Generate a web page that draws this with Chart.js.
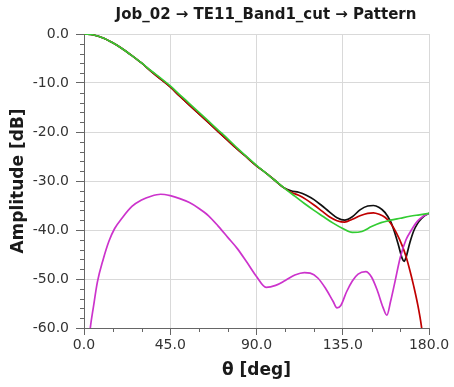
<!DOCTYPE html>
<html>
<head>
<meta charset="utf-8">
<script src="https://cdn.jsdelivr.net/npm/chart.js@4/dist/chart.umd.min.js"></script>
<style>
  html, body { margin: 0; padding: 0; background: #fff; }
  #wrap { width: 454px; height: 387px; }
</style>
</head>
<body>
<div id="wrap"><canvas id="c" width="454" height="387"></canvas></div>
<script>
// Far-field pattern cut: amplitude [dB] versus theta [deg]
const chartTitle = 'Job_02 \u2192 TE11_Band1_cut \u2192 Pattern';
const xTitle = '\u03b8 [deg]';
const yTitle = 'Amplitude [dB]';

const xTicks = [0, 45, 90, 135, 180];
const yTicks = [0, -10, -20, -30, -40, -50, -60];

const thetaGreen = [0,5,10,15,20,25,30,35,40,45,50,55,60,65,70,75,80,85,90,95,100,105,110,115,120,125,130,135,140,145,150,155,160,165,170,175,180];
const ampGreen   = [0,-0.2,-0.8,-1.8,-3.0,-4.4,-5.9,-7.5,-9.0,-10.6,-12.4,-14.2,-16.0,-17.8,-19.6,-21.4,-23.3,-25.1,-26.8,-28.4,-30.0,-31.6,-33.1,-34.6,-36.0,-37.3,-38.6,-39.7,-40.5,-40.3,-39.3,-38.5,-38.0,-37.6,-37.2,-36.9,-36.6];

const thetaBlack = [0,5,10,15,20,25,30,35,40,45,50,55,60,65,70,75,80,85,90,95,100,104,108,112,116,120,124,128,132,136,140,144,148,151,154,157,160,162,164,166,167,168,170,172,174,176,178,180];
const ampBlack   = [0,-0.2,-0.8,-1.8,-3.0,-4.4,-5.9,-7.6,-9.2,-10.8,-12.7,-14.5,-16.3,-18.1,-19.9,-21.7,-23.5,-25.2,-26.9,-28.4,-30.0,-31.3,-32.0,-32.3,-32.9,-33.8,-35.0,-36.3,-37.5,-38.0,-37.3,-35.9,-35.1,-35.0,-35.4,-36.4,-38.3,-40.4,-43.0,-45.8,-46.4,-45.6,-42.6,-40.2,-38.7,-37.7,-37.0,-36.6];

const thetaRed = [0,5,10,15,20,25,30,35,40,45,50,55,60,65,70,75,80,85,90,95,100,104,108,112,116,120,124,128,132,136,140,144,148,151,154,157,160,163,166,168,170,172,174,176,178,180];
const ampRed   = [0,-0.2,-0.8,-1.8,-3.0,-4.4,-5.9,-7.6,-9.2,-10.8,-12.7,-14.5,-16.3,-18.1,-19.9,-21.7,-23.5,-25.2,-26.9,-28.4,-30.0,-31.3,-32.3,-32.9,-33.8,-34.9,-36.1,-37.3,-38.1,-38.4,-37.8,-37.1,-36.6,-36.5,-36.8,-37.4,-38.6,-40.6,-43.2,-45.4,-48.2,-51.4,-55.0,-59.5,-66.0,-75.0];

const thetaMagenta = [0,2,3,5,7,10,13,16,20,25,30,35,40,45,50,55,60,65,70,75,80,85,90,95,100,105,110,115,118,122,126,130,132,134,137,140,143,147,150,153,156,158,160,162,165,168,171,174,177,180];
const ampMagenta   = [-80,-66,-61,-55.5,-50.6,-46.0,-42.3,-39.7,-37.5,-35.2,-33.9,-33.1,-32.7,-33.0,-33.6,-34.4,-35.6,-37.1,-39.2,-41.5,-43.8,-46.6,-49.5,-51.7,-51.3,-50.3,-49.2,-48.7,-48.8,-49.8,-51.9,-54.6,-55.9,-55.4,-52.6,-50.4,-49.0,-48.5,-49.6,-52.3,-55.8,-57.4,-54.5,-51.0,-45.6,-42.0,-39.9,-38.2,-37.2,-36.6];

function toPoints(xs, ys) {
  return xs.map((x, i) => ({ x: x, y: ys[i] }));
}

// Short minor ticks between the labelled ones, placed through the scales
const minorTicks = {
  id: 'minorTicks',
  afterDraw(chart) {
    const { ctx, chartArea, scales } = chart;
    ctx.save();
    ctx.strokeStyle = '#666';
    ctx.lineWidth = 1;
    ctx.beginPath();
    for (let v = 0; v <= 180; v += 15) {
      if (v % 45 === 0) continue;
      const px = Math.round(scales.x.getPixelForValue(v)) + 0.5;
      ctx.moveTo(px, chartArea.bottom);
      ctx.lineTo(px, chartArea.bottom + 4);
    }
    for (let v = 0; v >= -60; v -= 2) {
      if (v % 10 === 0) continue;
      const py = Math.round(scales.y.getPixelForValue(v)) + 0.5;
      ctx.moveTo(chartArea.left - 4, py);
      ctx.lineTo(chartArea.left, py);
    }
    ctx.stroke();
    ctx.restore();
  }
};

// Heading above the plot
const heading = {
  id: 'heading',
  afterDraw(chart) {
    const { ctx } = chart;
    ctx.save();
    ctx.fillStyle = '#1a1a1a';
    ctx.font = 'bold 15px "DejaVu Sans", sans-serif';
    ctx.textAlign = 'center';
    ctx.textBaseline = 'middle';
    ctx.fillText(chartTitle, 266, 15);
    ctx.restore();
  }
};

const lineStyle = {
  fill: false,
  pointRadius: 0,
  borderWidth: 1.7,
  cubicInterpolationMode: 'monotone'
};

new Chart(document.getElementById('c'), {
  type: 'line',
  data: {
    datasets: [
      Object.assign({ label: 'Green', data: toPoints(thetaGreen, ampGreen), borderColor: '#33cc33', order: 0 }, lineStyle),
      Object.assign({ label: 'Magenta', data: toPoints(thetaMagenta, ampMagenta), borderColor: '#cc33cc', order: 1 }, lineStyle),
      Object.assign({ label: 'Red', data: toPoints(thetaRed, ampRed), borderColor: '#c00000', order: 2 }, lineStyle),
      Object.assign({ label: 'Black', data: toPoints(thetaBlack, ampBlack), borderColor: '#111111', order: 3 }, lineStyle)
    ]
  },
  options: {
    responsive: false,
    animation: false,
    devicePixelRatio: 1,
    layout: { padding: { top: 34, right: 25, left: 0, bottom: 0 } },
    plugins: {
      legend: { display: false },
      tooltip: { enabled: false },
      title: { display: false }
    },
    scales: {
      x: {
        type: 'linear',
        min: 0,
        max: 180,
        afterFit(s) { s.height = 59; },
        afterBuildTicks(s) { s.ticks = xTicks.map(v => ({ value: v })); },
        ticks: {
          color: '#333',
          font: { family: '"DejaVu Sans", sans-serif', size: 14 },
          padding: 2,
          maxRotation: 0,
          callback: v => Number(v).toFixed(1)
        },
        grid: { color: '#d9d9d9', lineWidth: 1, tickColor: '#666', tickLength: 7 },
        border: { color: '#666', width: 1 },
        title: {
          display: true,
          text: xTitle,
          color: '#1a1a1a',
          font: { family: '"DejaVu Sans", sans-serif', size: 17, weight: 'bold' },
          padding: 6
        }
      },
      y: {
        type: 'linear',
        min: -60,
        max: 0,
        afterFit(s) { s.width = 84; },
        afterBuildTicks(s) { s.ticks = yTicks.map(v => ({ value: v })); },
        ticks: {
          color: '#333',
          font: { family: '"DejaVu Sans", sans-serif', size: 14 },
          padding: 7,
          callback: v => Number(v).toFixed(1)
        },
        grid: { color: '#d9d9d9', lineWidth: 1, tickColor: '#666', tickLength: 8 },
        border: { color: '#666', width: 1 },
        title: {
          display: true,
          text: yTitle,
          color: '#1a1a1a',
          font: { family: '"DejaVu Sans", sans-serif', size: 17, weight: 'bold' },
          padding: 8
        }
      }
    }
  },
  plugins: [minorTicks, heading]
});
</script>
</body>
</html>
